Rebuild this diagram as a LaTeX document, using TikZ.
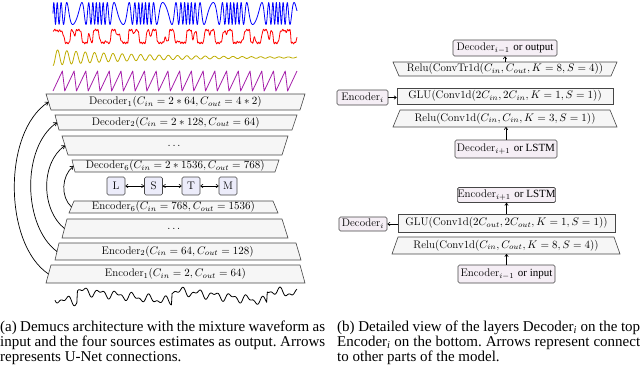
\RequirePackage{fix-cm}
\documentclass[tikz,border=0pt]{standalone}
\usepackage{amsmath}
\usepackage{fontspec}
\newfontfamily\tms{Liberation Serif}
\usetikzlibrary{arrows.meta}
\definecolor{layerfill}{RGB}{246,246,246}
\definecolor{boxfill}{RGB}{245,238,245}
\definecolor{srcfill}{RGB}{236,236,250}
\definecolor{olivey}{RGB}{190,172,0}
\definecolor{purp}{RGB}{165,30,170}
\definecolor{edge}{RGB}{70,70,70}
\newcommand\trapz[8]{%
  \draw[layer] (#4,#2) -- (#5,#2) -- (#7,#3) -- (#6,#3) -- cycle;
  \coordinate (#1w) at ({(#4+#6)/2},{(#2+#3)/2});
  \coordinate (#1n) at ({(#4+#5)/2},#2);
  \coordinate (#1s) at ({(#6+#7)/2},#3);
  \node[txt] (#1) at ({(#4+#5+#6+#7)/4},{(#2+#3)/2}) {#8};
}
\begin{document}
\begin{tikzpicture}[x=1pt,y=-1pt,
  layer/.style={draw=edge, line width=0.6pt, fill=layerfill},
  txt/.style={font=\fontsize{11}{12}\selectfont, inner sep=0pt},
  src/.style={draw=edge, line width=0.6pt, rounded corners=1.5pt, fill=srcfill,
    minimum width=18pt, minimum height=18pt, inner sep=0pt, font=\fontsize{11}{12}\selectfont},
  rbox/.style={draw=edge, line width=0.6pt, rounded corners=1.5pt, fill=boxfill,
    inner sep=0pt, font=\fontsize{11}{12}\selectfont},
  glubox/.style={draw=edge, line width=0.6pt, fill=layerfill,
    inner sep=0pt, font=\fontsize{11}{12}\selectfont},
  arr/.style={-{To[length=3pt,width=4pt]}, line width=0.6pt},
  darr/.style={{To[length=3pt,width=4pt]}-{To[length=3pt,width=4pt]}, line width=0.6pt},
  unet/.style={-{To[length=3.5pt,width=4.5pt]}, line width=0.7pt},
  wave/.style={line width=0.8pt, line join=round},
  captxt/.style={font=\fontsize{15}{15.5}\selectfont\tms\frenchspacing, inner sep=0pt, anchor=base west}
]
\useasboundingbox (0,0) rectangle (640,367);

% ---------- source waveforms ----------
\draw[wave, blue] plot[domain=0:244, samples=900] ({\x+53},{13.5-11*sin(62*\x+337*sin(8*\x))});
\draw[wave, red] plot[domain=0:244, samples=500]
  ({\x+53},{36.5-6.5*tanh(2.5*(sin(19*\x)+0.6*sin(43*\x+20)+0.3*sin(61*\x+50)))+0.9*sin(150*mod(\x,12))});
\draw[wave, olivey] plot[domain=0:244, samples=500]
  ({\x+53},{57.5+8*exp(-\x/90)*cos(39*\x)});
\draw[wave, purp] (53,91) \foreach \i in {0,...,19} { -- ({53+\i*11.73+9.38},71) -- ({53+(\i+1)*11.73},91) } -- (297,71);

% ---------- mixture waveform ----------
\draw[wave, black] plot[domain=0:242, samples=400]
  ({\x+55},{296+11*(mod(\x+73,95)/95-0.5)+3*sin(22*\x)+2*sin(41*\x+40)});

% ---------- Demucs stack ----------
\trapz{dA}{94}{110}{46}{305}{51}{300}{Decoder$_1(C_{in}=2*64, C_{out}=4*2)$}
\trapz{dB}{115}{130}{55}{297}{59}{292}{Decoder$_2(C_{in}=2*128, C_{out}=64)$}
\trapz{dC}{136}{155}{62}{288}{68}{282}{$\dots$}
\trapz{dD}{160}{172}{72}{279}{75}{275}{Decoder$_6(C_{in}=2*1536, C_{out}=768)$}
\trapz{eD}{201}{213}{74}{273}{69}{278}{Encoder$_6(C_{in}=768, C_{out}=1536)$}
\trapz{eC}{219}{238}{67}{282}{62}{288}{$\dots$}
\trapz{eB}{243}{260}{59}{296}{55}{301}{Encoder$_2(C_{in}=64, C_{out}=128)$}
\trapz{eA}{265}{283}{51}{300}{46}{305}{Encoder$_1(C_{in}=2, C_{out}=64)$}

\node[src] (L) at (116,186) {L};
\node[src] (S) at (153.5,186) {S};
\node[src] (T) at (191,186) {T};
\node[src] (M) at (228,186) {M};
\draw[darr] (L) -- (S);
\draw[darr] (S) -- (T);
\draw[darr] (T) -- (M);

\draw[unet] (eAw) .. controls +(-45,-30) and +(-46,30) .. (dAw);
\draw[unet] (eBw) .. controls +(-34,-25) and +(-36,25) .. (dBw);
\draw[unet] (eCw) .. controls +(-23,-18) and +(-25,18) .. (dCw);
\draw[unet] (eDw) .. controls +(-11,-10) and +(-12,10) .. (dDw);

% ---------- Decoder detail ----------
\node[rbox, minimum width=104pt, minimum height=16pt] (decout) at (505,48) {Decoder$_{i-1}$ {\tms or output}};
\trapz{ctr}{62}{76}{393}{617}{399}{611}{Relu(ConvTr1d$(C_{in}, C_{out}, K=8, S=4)$)}
\node[glubox, minimum width=216pt, minimum height=16pt] (gluA) at (505,96) {GLU(Conv1d$(2C_{in}, 2C_{in}, K=1, S=1)$)};
\node[rbox, minimum width=51pt, minimum height=15pt] (enci) at (362.5,97.5) {Encoder$_i$};
\trapz{rthree}{110}{127}{400}{610}{393}{617}{Relu(Conv1d$(C_{in}, C_{in}, K=3, S=1)$)}
\node[rbox, minimum width=102pt, minimum height=18pt] (decip) at (506,149) {Decoder$_{i+1}$ {\tms or LSTM}};
\draw[arr] (ctrn) -- (decout.south);
\draw[arr] (enci.east) -- (gluA.west |- enci.east);
\draw[arr] (decip.north) -- (decip.north |- rthrees);

% ---------- Encoder detail ----------
\node[rbox, minimum width=97pt, minimum height=15pt] (encip) at (506.5,195) {Encoder$_{i+1}$ {\tms or LSTM}};
\node[glubox, minimum width=217pt, minimum height=18pt] (gluB) at (506.5,223) {GLU(Conv1d$(2C_{out}, 2C_{out}, K=1, S=1)$)};
\node[rbox, minimum width=48pt, minimum height=14pt] (deci) at (363,224) {Decoder$_i$};
\trapz{reight}{237}{254}{398}{614}{392}{620}{Relu(Conv1d$(C_{in}, C_{out}, K=8, S=4)$)}
\node[rbox, minimum width=97pt, minimum height=18pt] (encim) at (506.5,274) {Encoder$_{i-1}$ {\tms or input}};
\draw[arr] (gluB.north -| encip.south) -- (encip.south);
\draw[arr] (gluB.west |- deci.east) -- (deci.east);
\draw[arr] (encim.north) -- (encim.north |- reights);

% ---------- captions ----------
\node[captxt] (ca1) at (0,331.5) {\makebox[325pt][s]{(a) Demucs architecture with the mixture waveform as}};
\node[captxt] (ca2) at (0,346.5) {\makebox[325pt][s]{input and the four sources estimates as output. Arrows}};
\node[captxt] (ca3) at (0,361.5) {represents U-Net connections.};
\node[captxt] (cb1) at (337,331.5) {\makebox[303pt][s]{(b) Detailed view of the layers Decoder$_{\text{\itshape i}}$ on the top}};
\node[captxt] (cb2) at (337,346.5) {\makebox[303pt][s]{Encoder$_{\text{\itshape i}}$ on the bottom. Arrows represent connect}};
\node[captxt] (cb3) at (337,361.5) {to other parts of the model.};
\end{tikzpicture}
\end{document}
